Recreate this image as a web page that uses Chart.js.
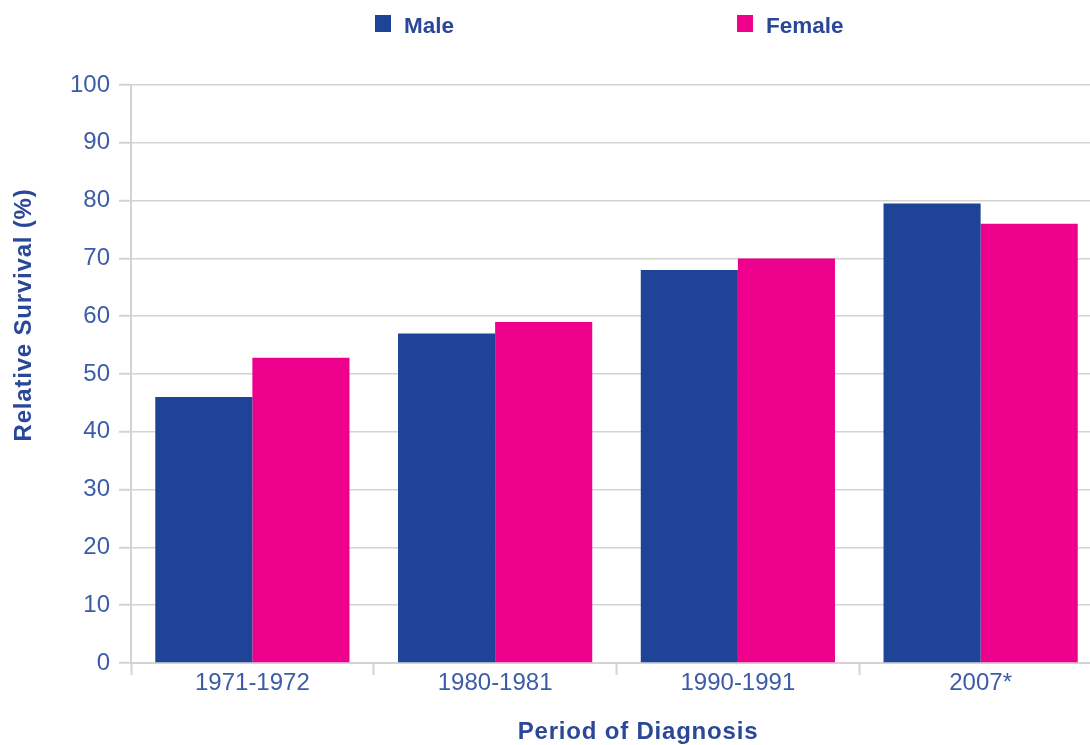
<!DOCTYPE html>
<html>
<head>
<meta charset="utf-8">
<script src="https://cdn.jsdelivr.net/npm/chart.js@4.4.1/dist/chart.umd.min.js"></script>
<style>
  html, body { margin: 0; padding: 0; background: #fff; overflow: hidden; }
  #frame { width: 1090px; height: 745px; overflow: hidden; position: relative; }
  #box { width: 1102px; height: 745px; }
</style>
</head>
<body>
<div id="frame"><div id="box"><canvas id="survival" width="1102" height="745"></canvas></div></div>
<script>
  // data
  const periods = ['1971-1972', '1980-1981', '1990-1991', '2007*'];
  const maleSurvival = [46, 57, 68, 79.5];
  const femaleSurvival = [52.8, 59, 70, 76];
  const seriesNames = ['Male', 'Female'];
  const yMin = 0, yMax = 100, yMinorStep = 5, yLabelStep = 10;
  const xTitle = 'Period of Diagnosis';
  const yTitle = 'Relative Survival (%)';

  const maleColor = '#1f4396';
  const femaleColor = '#ec008c';
  const tickText = '#3d5ca8';
  const boldText = '#2b4898';
  const lineGray = '#d3d3d3';
  const fontFamily = '"Liberation Sans", Arial, Helvetica, sans-serif';

  // legend + axis titles, placed like the original (spread legend, off-centre titles)
  const decorations = {
    id: 'decorations',
    afterDraw(chart) {
      const ctx = chart.ctx;
      ctx.save();
      ctx.fillStyle = boldText;
      ctx.font = 'bold 22.5px ' + fontFamily;
      ctx.textBaseline = 'alphabetic';
      ctx.textAlign = 'left';
      const legendX = [375, 737];
      chart.data.datasets.forEach((ds, i) => {
        ctx.fillStyle = ds.backgroundColor;
        ctx.fillRect(legendX[i], 15, 16, 17);
        ctx.fillStyle = boldText;
        ctx.fillText(ds.label, legendX[i] + 29, 33);
      });

      ctx.font = 'bold 24px ' + fontFamily;
      ctx.letterSpacing = '0.8px';
      ctx.textAlign = 'center';
      ctx.fillText(xTitle, 638, 739);

      ctx.translate(31, 315);
      ctx.rotate(-Math.PI / 2);
      ctx.fillText(yTitle, 0, 0);
      ctx.restore();
    }
  };

  const survival = new Chart(document.getElementById('survival').getContext('2d'), {
    type: 'bar',
    data: {
      labels: periods,
      datasets: [{
        label: seriesNames[0],
        data: maleSurvival,
        backgroundColor: maleColor,
        categoryPercentage: 0.8,
        barPercentage: 1.0
      }, {
        label: seriesNames[1],
        data: femaleSurvival,
        backgroundColor: femaleColor,
        categoryPercentage: 0.8,
        barPercentage: 1.0
      }]
    },
    options: {
      responsive: false,
      animation: false,
      devicePixelRatio: 1,
      layout: { padding: { top: 85, left: 0, right: 0, bottom: 0 } },
      plugins: {
        legend: { display: false },
        tooltip: { enabled: false }
      },
      scales: {
        x: {
          afterFit(scale) { scale.height = 82; },
          grid: {
            offset: true,
            drawOnChartArea: false,
            drawTicks: true,
            tickLength: 12,
            tickColor: lineGray,
            tickWidth: 2
          },
          border: { color: lineGray, width: 2 },
          ticks: {
            color: tickText,
            padding: -6,
            maxRotation: 0,
            font: { family: fontFamily, size: 24 }
          }
        },
        y: {
          min: yMin,
          max: yMax,
          afterFit(scale) { scale.width = 131; },
          grid: {
            color: (c) => (c.tick && c.tick.value % yLabelStep === 0) ? lineGray : 'rgba(0,0,0,0)',
            lineWidth: 1.5,
            tickColor: lineGray,
            tickWidth: 2,
            tickLength: 12,
            tickBorderDash: (c) => (c.tick && c.tick.value % yLabelStep === 0) ? [] : [8, 40]
          },
          border: { color: lineGray, width: 2 },
          ticks: {
            stepSize: yMinorStep,
            color: tickText,
            padding: 9,
            font: { family: fontFamily, size: 24 },
            callback: (v) => v % yLabelStep === 0 ? v : ''
          }
        }
      }
    },
    plugins: [decorations]
  });
</script>
</body>
</html>
